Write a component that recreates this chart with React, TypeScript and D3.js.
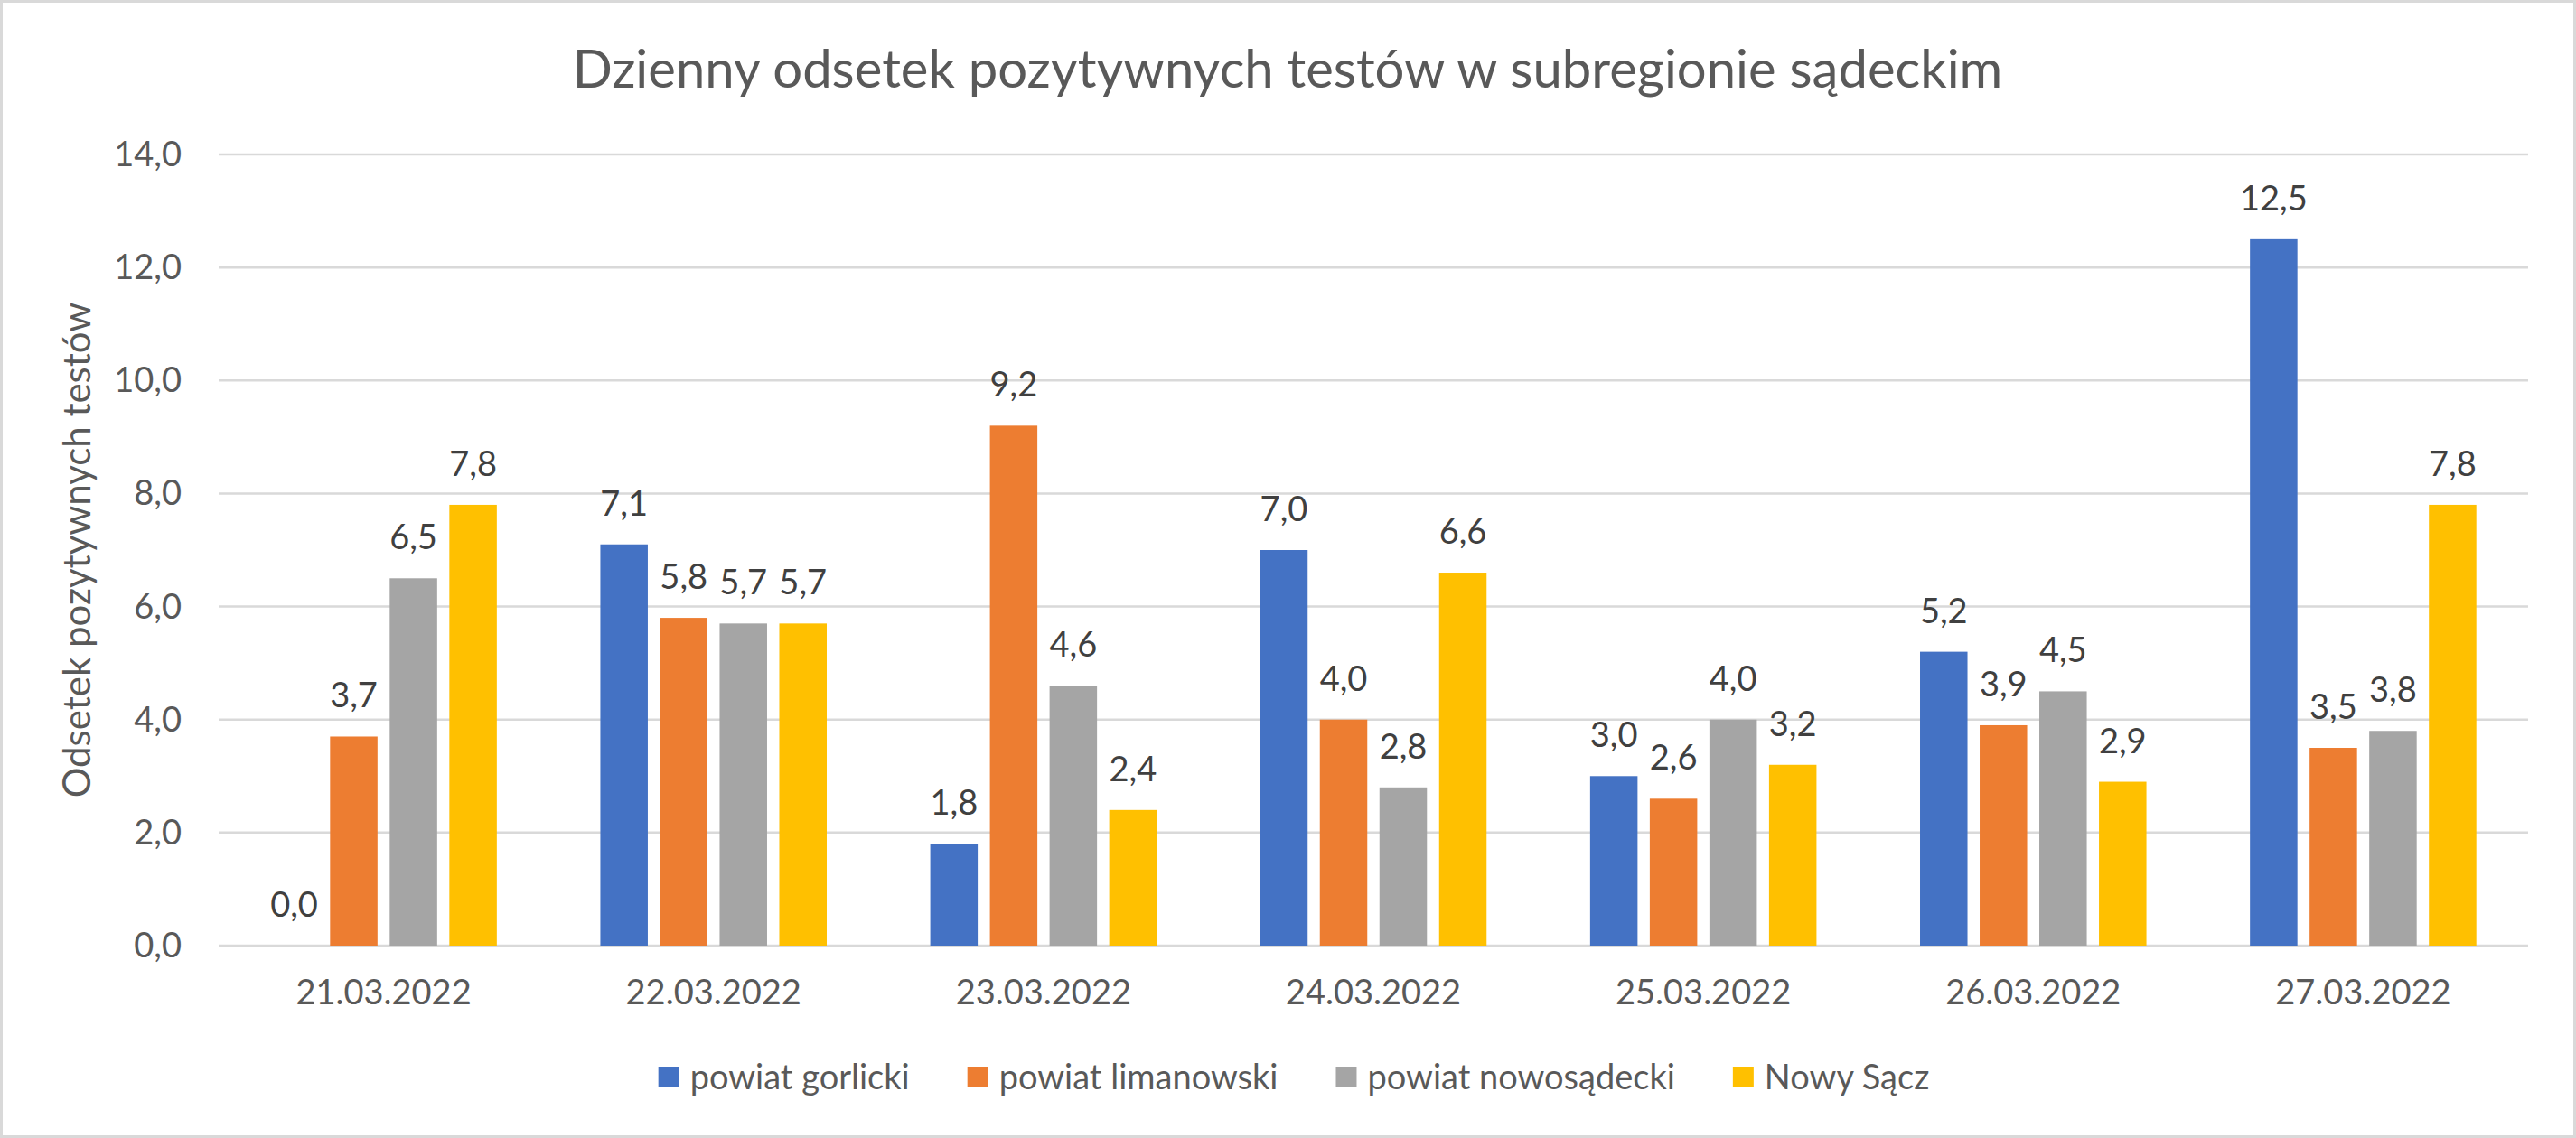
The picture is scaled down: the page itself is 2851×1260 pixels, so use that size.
import React, { useEffect, useRef } from 'react';
import * as d3 from 'd3';

const days = ['21.03.2022', '22.03.2022', '23.03.2022', '24.03.2022', '25.03.2022', '26.03.2022', '27.03.2022'];
const districts = ['powiat gorlicki', 'powiat limanowski', 'powiat nowosądecki', 'Nowy Sącz'];
const districtColors = ['#4472C4', '#ED7D31', '#A5A5A5', '#FFC000'];

const gorlicki = [0.0, 7.1, 1.8, 7.0, 3.0, 5.2, 12.5];
const limanowski = [3.7, 5.8, 9.2, 4.0, 2.6, 3.9, 3.5];
const nowosadecki = [6.5, 5.7, 4.6, 2.8, 4.0, 4.5, 3.8];
const nowySacz = [7.8, 5.7, 2.4, 6.6, 3.2, 2.9, 7.8];

const yTicks = [0, 2, 4, 6, 8, 10, 12, 14];

const W = 2851;
const H = 1260;
const FONT = 'Lato, "Open Sans", sans-serif';

const App = () => {
    const svgRef = useRef(null);

    useEffect(() => {
        document.body.style.margin = '0';

        const series = [gorlicki, limanowski, nowosadecki, nowySacz];
        const rows = days.map((day, i) => ({
            day,
            values: districts.map((name, s) => ({ name, color: districtColors[s], value: series[s][i] }))
        }));

        // polish number format: one decimal, comma separator
        const pl = d3.formatLocale({ decimal: ',', thousands: ' ', grouping: [3], currency: ['', ' zł'] });
        const fmt = pl.format('.1f');

        const svg = d3.select(svgRef.current);
        svg.selectAll('*').remove();

        svg.append('rect')
            .attr('x', 1.5).attr('y', 1.5)
            .attr('width', W - 3).attr('height', H - 3)
            .attr('fill', '#ffffff')
            .attr('stroke', '#d9d9d9')
            .attr('stroke-width', 3);

        const x0 = d3.scaleBand().domain(days).range([242, 2798]);
        const x1 = d3.scaleBand().domain(districts).range([0, x0.bandwidth()])
            .paddingInner(0.2045).paddingOuter(0.868);
        const y = d3.scaleLinear().domain([0, 14]).range([1047, 171]);

        // gridlines
        svg.append('g')
            .selectAll('line')
            .data(yTicks)
            .enter()
            .append('line')
            .attr('x1', 242).attr('x2', 2798)
            .attr('y1', d => y(d)).attr('y2', d => y(d))
            .attr('stroke', '#d9d9d9')
            .attr('stroke-width', 2.5);

        // y tick labels
        svg.append('g')
            .selectAll('text')
            .data(yTicks)
            .enter()
            .append('text')
            .attr('x', 201)
            .attr('y', d => y(d) + 13)
            .attr('text-anchor', 'end')
            .attr('font-family', FONT)
            .attr('font-size', 38)
            .attr('fill', '#595959')
            .text(d => fmt(d));

        // bars
        const groups = svg.append('g')
            .selectAll('g')
            .data(rows)
            .enter()
            .append('g')
            .attr('transform', d => `translate(${x0(d.day)},0)`);

        groups.selectAll('rect')
            .data(d => d.values)
            .enter()
            .append('rect')
            .attr('x', d => x1(d.name))
            .attr('y', d => y(d.value))
            .attr('width', x1.bandwidth())
            .attr('height', d => y(0) - y(d.value))
            .attr('fill', d => d.color);

        // value labels above bars
        groups.selectAll('text')
            .data(d => d.values)
            .enter()
            .append('text')
            .attr('x', d => x1(d.name) + x1.bandwidth() / 2)
            .attr('y', d => y(d.value) - 32)
            .attr('text-anchor', 'middle')
            .attr('font-family', FONT)
            .attr('font-size', 38)
            .attr('fill', '#404040')
            .text(d => fmt(d.value));

        // category labels
        svg.append('g')
            .selectAll('text')
            .data(days)
            .enter()
            .append('text')
            .attr('x', d => x0(d) + x0.bandwidth() / 2)
            .attr('y', 1112)
            .attr('text-anchor', 'middle')
            .attr('font-family', FONT)
            .attr('font-size', 38)
            .attr('fill', '#595959')
            .text(d => d);

        // title
        svg.append('text')
            .attr('x', 1425)
            .attr('y', 97)
            .attr('text-anchor', 'middle')
            .attr('font-family', FONT)
            .attr('font-size', 58)
            .attr('fill', '#595959')
            .text('Dzienny odsetek pozytywnych testów w subregionie sądeckim');

        // y axis title
        svg.append('text')
            .attr('transform', 'translate(100,609) rotate(-90)')
            .attr('text-anchor', 'middle')
            .attr('font-family', FONT)
            .attr('font-size', 42)
            .attr('fill', '#595959')
            .text('Odsetek pozytywnych testów');

        // legend, laid out from measured text widths
        const legend = svg.append('g');
        const items = legend.selectAll('g')
            .data(districts)
            .enter()
            .append('g');

        items.append('rect')
            .attr('width', 23).attr('height', 23)
            .attr('y', 1181)
            .attr('fill', (d, i) => districtColors[i]);

        const labels = items.append('text')
            .attr('x', 35)
            .attr('y', 1206)
            .attr('font-family', FONT)
            .attr('font-size', 38)
            .attr('fill', '#595959')
            .text(d => d);

        const widths = labels.nodes().map(n => n.getComputedTextLength());
        const itemW = widths.map(w => 35 + w);
        const gap = 64;
        const total = d3.sum(itemW) + gap * (itemW.length - 1);
        let cx = 1432 - total / 2;
        const offsets = itemW.map(w => { const o = cx; cx += w + gap; return o; });
        items.attr('transform', (d, i) => `translate(${offsets[i]},0)`);
    }, []);

    return <svg ref={svgRef} width={W} height={H} style={{ display: 'block' }}></svg>;
};

export default App;
